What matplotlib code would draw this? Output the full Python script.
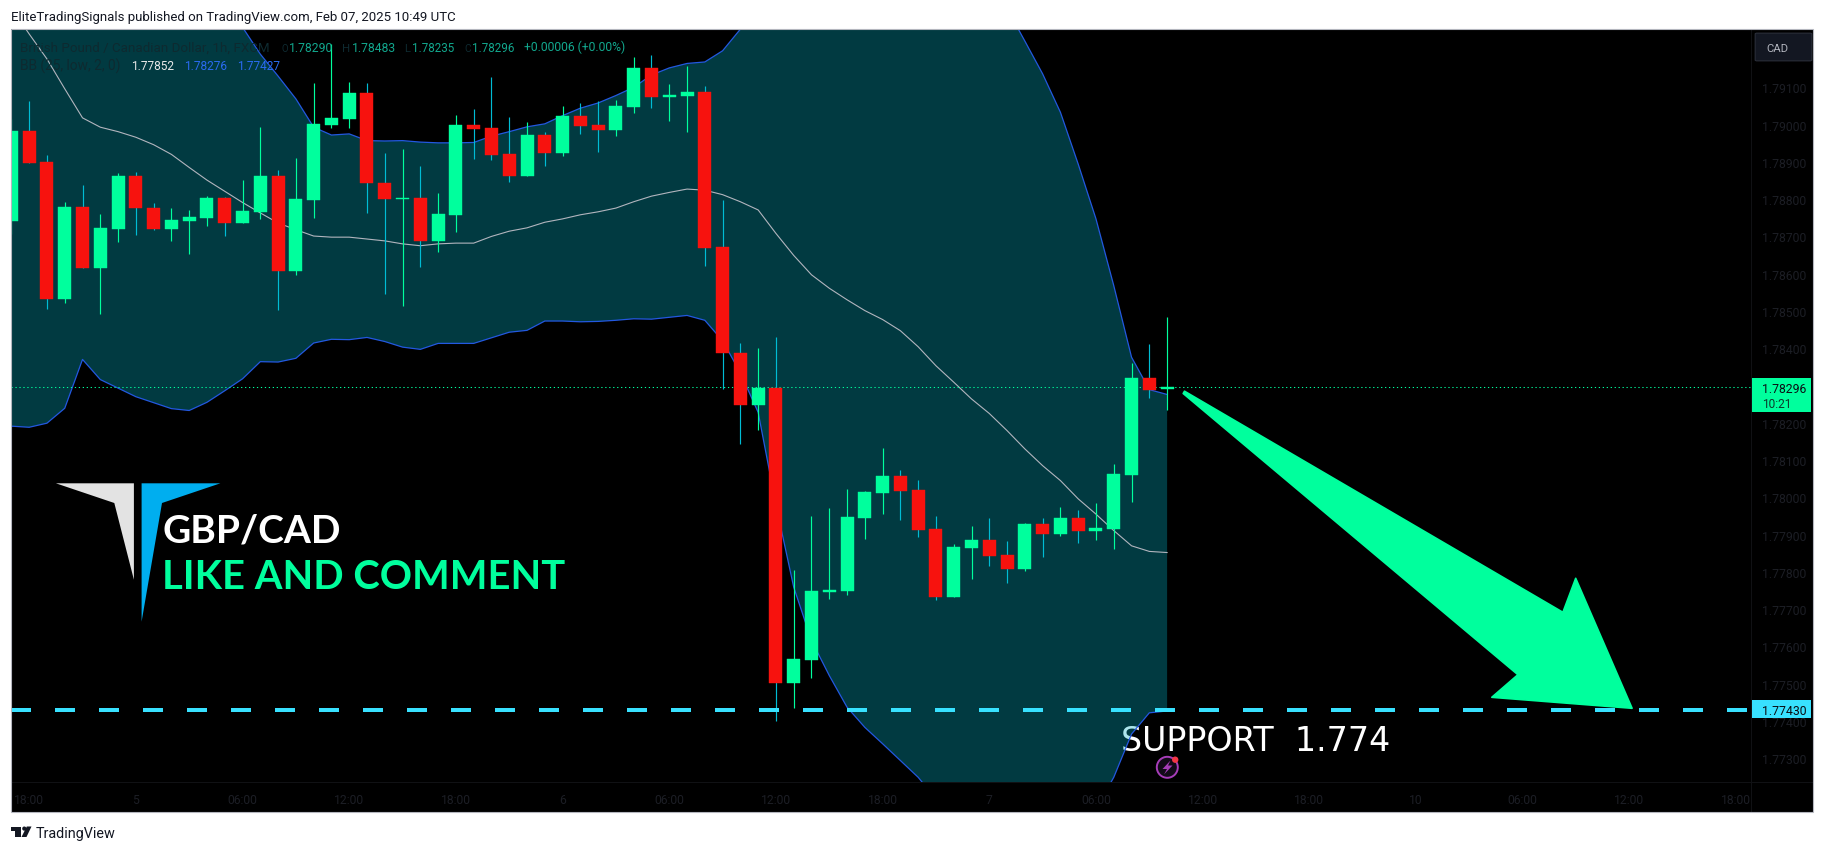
import numpy as np
import matplotlib
matplotlib.use("Agg")
import matplotlib.pyplot as plt
from matplotlib.patches import Rectangle, Polygon, Circle, FancyBboxPatch
from matplotlib.transforms import IdentityTransform

# ---- data (1h GBP/CAD candles) ----
opens = [1.78742,1.78983,1.78900,1.78533,1.78779,1.78616,1.78721,1.78862,1.78776,1.78721,
         1.78742,1.78750,1.78803,1.78737,1.78766,1.78862,1.78606,1.78799,1.79000,1.79016,
         1.79085,1.78843,1.78801,1.78803,1.78689,1.78758,1.78999,1.78991,1.78921,1.78863,
         1.78972,1.78925,1.79023,1.78999,1.78986,1.79048,1.79152,1.79075,1.79078,1.79087,
         1.78672,1.78387,1.78249,1.78293,1.77502,1.77564,1.77746,1.77749,1.77945,1.78012,
         1.78057,1.78020,1.77915,1.77733,1.77864,1.77886,1.77845,1.77808,1.77929,1.77902,
         1.77945,1.77910,1.77915,1.78060,1.78320,1.78290]
closes = [1.78983,1.78898,1.78533,1.78779,1.78616,1.78723,1.78862,1.78775,1.78721,1.78744,
          1.78752,1.78803,1.78737,1.78768,1.78862,1.78606,1.78800,1.79002,1.79018,1.79085,
          1.78842,1.78801,1.78803,1.78689,1.78760,1.78999,1.78989,1.78919,1.78863,1.78972,
          1.78925,1.79023,1.78997,1.78986,1.79050,1.79152,1.79075,1.79079,1.79087,1.78670,
          1.78386,1.78249,1.78293,1.77502,1.77566,1.77749,1.77752,1.77947,1.78014,1.78057,
          1.78017,1.77912,1.77733,1.77867,1.77886,1.77843,1.77808,1.77929,1.77902,1.77945,
          1.77910,1.77918,1.78063,1.78320,1.78288,1.78296]
highs = [1.79015,1.79063,1.78918,1.78791,1.78838,1.78760,1.78870,1.78873,1.78790,1.78775,
         1.78771,1.78808,1.78806,1.78851,1.78994,1.78878,1.78910,1.79112,1.79216,1.79114,
         1.79112,1.78924,1.78935,1.78889,1.78817,1.79026,1.79042,1.79128,1.79020,1.79007,
         1.78980,1.79050,1.79058,1.79063,1.79066,1.79181,1.79187,1.79109,1.79157,1.79104,
         1.78798,1.78414,1.78401,1.78430,1.77805,1.77950,1.77972,1.78023,1.78017,1.78133,
         1.78074,1.78047,1.77950,1.77875,1.77923,1.77945,1.77883,1.77931,1.77945,1.77974,
         1.77966,1.77985,1.78090,1.78360,1.78411,1.78483]
lows = [1.78707,1.78898,1.78505,1.78521,1.78616,1.78493,1.78686,1.78704,1.78718,1.78689,
        1.78653,1.78728,1.78701,1.78737,1.78747,1.78503,1.78597,1.78749,1.78991,1.78991,
        1.78763,1.78546,1.78513,1.78618,1.78658,1.78712,1.78908,1.78905,1.78846,1.78863,
        1.78889,1.78916,1.78975,1.78927,1.78969,1.79031,1.79045,1.79010,1.78980,1.78621,
        1.78291,1.78143,1.78181,1.77401,1.77435,1.77515,1.77727,1.77738,1.77888,1.77955,
        1.77939,1.77894,1.77725,1.77733,1.77781,1.77816,1.77770,1.77803,1.77840,1.77896,
        1.77878,1.77886,1.77862,1.77988,1.78267,1.78235]
bb_basis = [1.79313,1.79243,1.79176,1.79096,1.79018,1.78993,1.78981,1.78966,1.78946,1.78920,
            1.78885,1.78851,1.78821,1.78791,1.78763,1.78736,1.78718,1.78701,1.78698,1.78698,
            1.78693,1.78688,1.78680,1.78675,1.78680,1.78682,1.78682,1.78700,1.78714,1.78723,
            1.78738,1.78747,1.78758,1.78766,1.78776,1.78793,1.78808,1.78818,1.78827,1.78824,
            1.78812,1.78793,1.78771,1.78708,1.78649,1.78597,1.78561,1.78530,1.78501,1.78477,
            1.78447,1.78404,1.78353,1.78309,1.78264,1.78225,1.78179,1.78130,1.78085,1.78045,
            1.77996,1.77955,1.77911,1.77870,1.77855,1.77852]
bb_upper = [1.80430,1.80298,1.80153,1.79952,1.79665,1.79670,1.79670,1.79662,1.79638,1.79603,
            1.79538,1.79448,1.79356,1.79261,1.79189,1.79130,1.79069,1.78993,1.78972,1.78975,
            1.78957,1.78956,1.78957,1.78953,1.78951,1.78951,1.78952,1.78969,1.78981,1.78994,
            1.79002,1.79024,1.79044,1.79058,1.79078,1.79100,1.79133,1.79152,1.79164,1.79168,
            1.79198,1.79256,1.79314,1.79436,1.79538,1.79578,1.79600,1.79622,1.79619,1.79615,
            1.79601,1.79560,1.79516,1.79489,1.79453,1.79399,1.79311,1.79224,1.79136,1.79033,
            1.78894,1.78747,1.78568,1.78376,1.78289,1.78276]
bb_lower = [1.78191,1.78188,1.78199,1.78239,1.78370,1.78316,1.78293,1.78270,1.78254,1.78238,
            1.78233,1.78255,1.78286,1.78318,1.78364,1.78363,1.78373,1.78414,1.78424,1.78423,
            1.78429,1.78418,1.78403,1.78397,1.78413,1.78413,1.78413,1.78428,1.78443,1.78448,
            1.78473,1.78473,1.78471,1.78472,1.78475,1.78479,1.78478,1.78483,1.78488,1.78475,
            1.78420,1.78334,1.78228,1.77980,1.77759,1.77616,1.77522,1.77437,1.77383,1.77339,
            1.77294,1.77249,1.77191,1.77128,1.77075,1.77052,1.77047,1.77035,1.77034,1.77057,
            1.77097,1.77164,1.77249,1.77365,1.77422,1.77427]
last_price = 1.78296
support_price = 1.77430
price_ticks = [1.773,1.774,1.775,1.776,1.777,1.778,1.779,1.780,1.781,1.782,
               1.783,1.784,1.785,1.786,1.787,1.788,1.789,1.790,1.791]
time_positions = [1,7,13,19,25,31,37,43,49,55,61,67,73,79,85,91,97]
time_labels = ["18:00","5","06:00","12:00","18:00","6","06:00","12:00","18:00","7",
               "06:00","12:00","18:00","10","06:00","12:00","18:00"]

# ---- style ----
W, H = 1825, 853
UP = "#00FF9D"; DOWN = "#F7120E"; WICK_DOWN = "#00BCD4"
BAND = "#2358E0"; BASIS = "#B2B5BE"; DASH = "#38E1FF"
DIM = "#1C1E25"; INK = "#131722"
SANS = "Roboto"

fig = plt.figure(figsize=(W/100, H/100), dpi=100, facecolor="white")
renderer = fig.canvas.get_renderer()

def fx(x): return x / W
def fy(y): return 1 - y / H

def rect(x0, y0, x1, y1, **kw):
    p = Rectangle((fx(x0), fy(y1)), (x1-x0)/W, (y1-y0)/H, transform=fig.transFigure, **kw)
    fig.add_artist(p); return p

def poly(points, **kw):
    p = Polygon([(fx(a), fy(b)) for a, b in points], closed=True, transform=fig.transFigure, **kw)
    fig.add_artist(p); return p

def disc(x, y, r, **kw):
    # round in pixels whatever the figure's aspect ratio
    p = Circle((x, H - y), r, transform=IdentityTransform(), **kw)
    fig.add_artist(p); p.set_transform(IdentityTransform()); return p

def fit(t, width):
    t.set_fontsize(t.get_fontsize() * width / t.get_window_extent(renderer).width)
    return t

def label(x0, x1, base, s, color, family=SANS, weight="normal", parent=None, zorder=10):
    host = parent if parent is not None else fig
    kw = dict(transform=fig.transFigure) if parent is not None else {}
    t = host.text(fx(x0), fy(base), s, color=color, family=family, weight=weight,
                  ha="left", va="baseline", fontsize=10, zorder=zorder, **kw)
    return fit(t, x1 - x0)

# chart background (pane + both scales)
rect(11.4, 30, 1813, 813, facecolor="black", edgecolor="none", zorder=-1)

AX_L, AX_R, AX_T, AX_B = 11.4, 1751, 30, 783
ax = fig.add_axes([fx(AX_L), fy(AX_B), (AX_R-AX_L)/W, (AX_B-AX_T)/H], facecolor="black")
PER_BAR = 17.78
ax.set_xlim(0, (AX_R-AX_L)/PER_BAR)
PER_UNIT = 37278.0
ax.set_ylim(1.791 - (AX_B-88.3)/PER_UNIT, 1.791 + (88.3-AX_T)/PER_UNIT)
for s in ax.spines.values():
    s.set_visible(False)

idx = np.arange(len(opens))
# the band tints the big SUPPORT caption where they overlap, so the caption sits under it
label(1120.7, 1388.6, 750.7, "SUPPORT  1.774", "white", family="DejaVu Sans", parent=ax, zorder=1)
ax.fill_between(idx, bb_lower, bb_upper, color="#06B2C8", alpha=0.33, lw=0, zorder=2)
ax.plot(idx, bb_upper, color=BAND, lw=0.9, zorder=3)
ax.plot(idx, bb_lower, color=BAND, lw=0.9, zorder=3)
ax.plot(idx, bb_basis, color=BASIS, lw=0.8, zorder=3)

# last price line
ax.axhline(last_price, color=UP, lw=0.75, ls=(0, (1.2, 2.6)), zorder=3.5)

# candles
opens_a, closes_a = np.array(opens), np.array(closes)
rising = closes_a >= opens_a
ax.vlines(idx[rising], np.array(lows)[rising], np.array(highs)[rising], color=UP, lw=0.85, zorder=4)
ax.vlines(idx[~rising], np.array(lows)[~rising], np.array(highs)[~rising], color=WICK_DOWN, lw=0.85, zorder=4)
body_w = 13.0 / PER_BAR
ax.bar(idx[rising], (closes_a-opens_a)[rising], bottom=opens_a[rising], width=body_w,
       color=UP, edgecolor=UP, lw=0.3, zorder=5)
ax.bar(idx[~rising], (opens_a-closes_a)[~rising], bottom=closes_a[~rising], width=body_w,
       color=DOWN, edgecolor=DOWN, lw=0.3, zorder=5)

# support line: 20 px on, 24 px off, 4 px thick
lw = 4 * 0.72
ax.axhline(support_price, color=DASH, lw=lw, ls=(0, (20*0.72/lw, 24*0.72/lw)),
           dash_capstyle="butt", zorder=6)

# axes labels
ax.set_xticks(time_positions)
ax.set_xticklabels(time_labels)
ax.set_yticks(price_ticks)
ax.set_yticklabels([f"{v:.5f}" for v in price_ticks])
ax.yaxis.tick_right()
ax.tick_params(axis="x", length=0, pad=7.6, labelsize=8.7, labelcolor=DIM)
ax.tick_params(axis="y", length=0, pad=7.7, labelsize=8.8, labelcolor=DIM)
for t in ax.get_xticklabels() + ax.get_yticklabels():
    t.set_family(SANS)
ax.grid(False)

# scale separators and outer frame
rect(AX_R, 30, AX_R+0.8, 813, facecolor="#101114", edgecolor="none", zorder=2)
rect(11.4, AX_B, 1813, AX_B+0.8, facecolor="#101114", edgecolor="none", zorder=2)
rect(11.2, 30, 1813, 813.4, facecolor="none", edgecolor="#B4B6BE", lw=0.8, zorder=9)

# price tags
rect(1751.5, 379, 1810.5, 412.7, facecolor=UP, edgecolor="none", zorder=3)
rect(1751.5, 701, 1810.5, 719.4, facecolor=DASH, edgecolor="none", zorder=3)
label(1761.7, 1806, 393, "1.78296", "#0B0E14")
label(1761.7, 1791, 408, "10:21", "#0B3A2A")
label(1761.7, 1806, 715, "1.77430", "#0B0E14")
fig.add_artist(FancyBboxPatch((fx(1757), fy(61)), (1810-1757)/W, 26/H,
                              boxstyle="round,pad=0.001", transform=fig.transFigure,
                              facecolor="#131722", edgecolor="#2A2E39", lw=0.8, zorder=3))
label(1766, 1788, 52.5, "CAD", "#B2B5BE")

# header and footer
label(11.4, 456, 21, "EliteTradingSignals published on TradingView.com, Feb 07, 2025 10:49 UTC", INK)
label(36, 116, 838.5, "TradingView", INK)
rect(11.4, 827.5, 20.5, 831.5, facecolor=INK, edgecolor="none", zorder=3)
rect(15, 827.5, 20.5, 838, facecolor=INK, edgecolor="none", zorder=3)
disc(24.3, 829.6, 2.1, facecolor=INK, edgecolor="none", zorder=3)
poly([(26.8, 827.5), (31.5, 827.5), (26.5, 838), (21.5, 838)], facecolor=INK, edgecolor="none", zorder=3)

# legend block
LEG = "#0E2A30"
VAL = "#12A88E"
label(20.4, 270, 51.5, "British Pound / Canadian Dollar, 1h, FXCM", LEG)
for (x0, x1, s, c) in [(281, 287.5, "O", LEG), (289, 333, "1.78290", VAL),
                       (342, 350, "H", LEG), (352, 396, "1.78483", VAL),
                       (404, 410, "L", LEG), (412, 454, "1.78235", VAL),
                       (464, 470.5, "C", LEG), (472, 514, "1.78296", VAL),
                       (524.5, 626, "+0.00006 (+0.00%)", VAL)]:
    label(x0, x1, 51.5, s, c)
label(20.4, 121, 70.5, "BB (25, low, 2, 0)", LEG)
label(130.6, 173.5, 70.5, "1.77852", "#E8E8E8")
label(183.7, 226.5, 70.5, "1.78276", "#2A6BF0")
label(236.7, 279.6, 70.5, "1.77427", "#2A6BF0")

# drawn overlay: logo, captions, arrow, icon
poly([(55.9, 484.3), (133.9, 484.3), (133.9, 580.7), (114.3, 504)], facecolor="#E3E3E3", edgecolor="none", zorder=7)
poly([(141.6, 484.3), (220.4, 484.3), (162, 504), (141.6, 622.7)], facecolor="#00AEEF", edgecolor="none", zorder=7)
label(162, 340, 542.7, "GBP/CAD", "white", family="Lato", weight="bold")
label(162.4, 565, 588.7, "LIKE AND COMMENT", UP, family="Lato", weight="bold")

poly([(1184.5, 392.2), (1562.9, 613.3), (1575.7, 579.3), (1632.1, 709.3),
      (1491.8, 698.3), (1517.9, 675.7), (1183.2, 394.5)],
     facecolor=UP, edgecolor=UP, lw=1.2, joinstyle="round", zorder=7)

disc(1167.3, 768.3, 10.5, facecolor="#120A18", edgecolor="#A63DB8", lw=1.4, zorder=7)
poly([(1170.5, 761.5), (1162.5, 770), (1167, 770), (1164, 775.5), (1172.5, 766.5), (1168, 766.5)],
     facecolor="#A63DB8", edgecolor="none", zorder=8)
disc(1175.2, 760.7, 3.2, facecolor="#F23645", edgecolor="none", zorder=8)

fig.savefig("out.png", dpi=100, facecolor="white")
